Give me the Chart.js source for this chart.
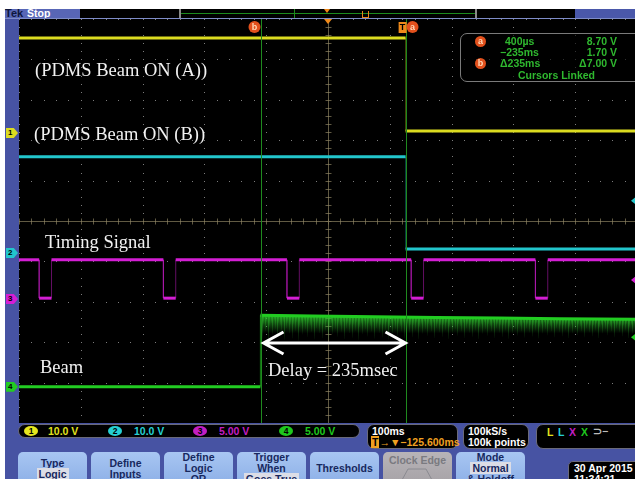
<!DOCTYPE html>
<html>
<head>
<meta charset="utf-8">
<title>Logic trigger delay</title>
<script src="https://cdn.jsdelivr.net/npm/chart.js@4.4.1/dist/chart.umd.min.js"></script>
<style>
  html, body { margin: 0; padding: 0; }
  body { width: 635px; height: 479px; overflow: hidden; position: relative; background: #fff;
         font-family: "Liberation Sans", Arial, sans-serif; }
  .abs { position: absolute; }
  .note { position: absolute; color: #f2f2f2; font-family: "Liberation Serif", "Times New Roman", serif;
          font-size: 18.5px; line-height: 1; white-space: nowrap; }
  .ui { position: absolute; font-weight: bold; font-size: 10.5px; line-height: 11px; white-space: nowrap; }
  .grn { color: #2fb82f; }
  .circ { position: absolute; width: 11px; height: 11px; border-radius: 50%; background: #e2501c;
          color: #ffd9b8; font: bold 9px "Liberation Sans"; line-height: 11px; text-align: center; }
  .tag { position: absolute; left: 6px; width: 12px; height: 10px; color: #000; font: bold 8px "Liberation Sans";
         line-height: 10px; padding-left: 2px; box-sizing: border-box;
         clip-path: polygon(0 0, 65% 0, 100% 50%, 65% 100%, 0 100%); }
  .box { position: absolute; background: #000; border: 1px solid #6a6a7a; border-radius: 7px; box-sizing: border-box; }
  .chip { position: absolute; top: 1px; width: 14px; height: 10px; border-radius: 50%; color: #000;
          font: bold 8.5px "Liberation Sans"; line-height: 10px; text-align: center; }
  .btn { position: absolute; top: 452px; width: 69px; height: 40px; border-radius: 5px 5px 0 0;
         background: linear-gradient(#a8c6f2, #86aae4); color: #17285e; text-align: center;
         font: bold 10.5px "Liberation Sans"; line-height: 11px; box-sizing: border-box; }
  .hl { background: #dcdde6; padding: 0 2px; }
</style>
</head>
<body>
<div id="frame" class="abs" style="left:5px;top:9px;width:640px;height:480px;background:#4753a3"></div>

<!-- top status bar -->
<div class="abs" style="left:5px;top:9px;width:75px;height:10px;background:#5866b6"></div>
<div class="ui" style="left:5px;top:8px;color:#0e163e;font-size:11px">Tek</div>
<div class="ui" style="left:27px;top:8px;color:#fff">Stop</div>
<div class="abs" style="left:80px;top:9px;width:495px;height:9px;background:#000"></div>
<div class="abs" style="left:179px;top:9px;width:298px;height:9px;border-left:2px solid #8a8a8a;border-right:2px solid #8a8a8a;box-sizing:border-box"></div>
<div class="abs" style="left:181px;top:13px;width:294px;height:1px;background:#1d8a1d"></div>
<div class="abs" style="left:294px;top:9px;width:1px;height:9px;background:#1d8a1d"></div>
<div class="abs" style="left:324px;top:9px;width:0;height:0;border-left:3px solid transparent;border-right:3px solid transparent;border-top:4px solid #f08a1a"></div>
<div class="abs" style="left:362px;top:11px;width:5px;height:6px;border:1px solid #e8861a;border-top:none"></div>
<div class="abs" style="left:575px;top:9px;width:60px;height:9px;background:#4a58aa"></div>
<div class="abs" style="left:5px;top:18px;width:630px;height:1px;background:#7e8cc8"></div>

<canvas id="scope" class="abs" style="left:19px;top:19px" width="618" height="404"></canvas>

<!-- annotations written on the screenshot -->
<div class="note" style="left:35px;top:60.5px">(PDMS Beam ON (A))</div>
<div class="note" style="left:34px;top:124.5px">(PDMS Beam ON (B))</div>
<div class="note" style="left:45px;top:232.5px">Timing Signal</div>
<div class="note" style="left:40px;top:357.5px">Beam</div>
<div class="note" style="left:268px;top:360.5px">Delay = 235msec</div>

<!-- cursor readout -->
<div class="abs" style="left:460px;top:33px;width:190px;height:49px;border:1.5px solid #7a7a7a;border-radius:7px;background:rgba(0,0,0,0.6);box-sizing:border-box"></div>
<div class="circ" style="left:475px;top:36px">a</div>
<div class="ui grn" style="left:505px;top:36px">400µs</div>
<div class="ui grn" style="left:585px;top:36px;width:32px;text-align:right">8.70 V</div>
<div class="ui grn" style="left:500px;top:47px">−235ms</div>
<div class="ui grn" style="left:585px;top:47px;width:32px;text-align:right">1.70 V</div>
<div class="circ" style="left:475px;top:58px">b</div>
<div class="ui grn" style="left:500px;top:58px">Δ235ms</div>
<div class="ui grn" style="left:570px;top:58px;width:47px;text-align:right">Δ7.00 V</div>
<div class="ui grn" style="left:518px;top:70px">Cursors Linked</div>

<!-- bottom readouts -->
<div class="box" style="left:18px;top:424px;width:342px;height:14px">
  <div class="chip" style="left:5px;background:#e6e61e">1</div>
  <div class="ui" style="left:29px;top:1px;color:#e2e21e">10.0 V</div>
  <div class="chip" style="left:89px;background:#26d0d4">2</div>
  <div class="ui" style="left:115px;top:1px;color:#26d0d4">10.0 V</div>
  <div class="chip" style="left:174px;background:#c21ec2">3</div>
  <div class="ui" style="left:200px;top:1px;color:#c21ec2">5.00 V</div>
  <div class="chip" style="left:260px;background:#1ec81e">4</div>
  <div class="ui" style="left:286px;top:1px;color:#1ec81e">5.00 V</div>
</div>
<div class="box" style="left:367px;top:424px;width:91px;height:25px">
  <div class="ui" style="left:4px;top:1px;color:#fff">100ms</div>
  <div class="ui" style="left:3px;top:12px;color:#f0a020"><span style="background:#f0a020;color:#000;padding:0 1px">T</span>→▼−125.600ms</div>
</div>
<div class="box" style="left:463px;top:424px;width:66px;height:25px">
  <div class="ui" style="left:4px;top:1px;color:#fff">100kS/s</div>
  <div class="ui" style="left:4px;top:12px;color:#fff">100k points</div>
</div>
<div class="box" style="left:536px;top:424px;width:110px;height:25px">
  <div class="ui" style="left:10px;top:2px;color:#e2e21e">L</div>
  <div class="ui" style="left:21px;top:2px;color:#26d0d4">L</div>
  <div class="ui" style="left:32px;top:2px;color:#c21ec2">X</div>
  <div class="ui" style="left:44px;top:2px;color:#1ec81e">X</div>
  <div class="ui" style="left:56px;top:1px;color:#bbb">⊃−</div>
</div>

<!-- soft menu -->
<div class="btn" style="left:18px;padding-top:6px">Type<br><span class="hl">Logic</span></div>
<div class="btn" style="left:91px;padding-top:6px">Define<br>Inputs</div>
<div class="btn" style="left:164px;padding-top:0">Define<br>Logic<br>OR</div>
<div class="btn" style="left:237px;padding-top:0">Trigger<br>When<br><span class="hl">Goes True</span></div>
<div class="btn" style="left:310px;padding-top:11px">Thresholds</div>
<div class="btn" style="left:383px;padding-top:3px;background:linear-gradient(#b8b4b8,#a29ea2);color:#7a7a80">Clock Edge
  <svg width="60" height="14" style="display:block;margin:1px auto 0"><polyline points="0,13 14,13 20,2 38,2 44,13 60,13" fill="none" stroke="#8a8a90" stroke-width="1"/></svg></div>
<div class="btn" style="left:456px;padding-top:0">Mode<br><span class="hl">Normal</span><br>&amp; Holdoff</div>
<div class="box" style="left:568px;top:461px;width:80px;height:30px;border-radius:5px">
  <div class="ui" style="left:5px;top:1px;color:#fff">30 Apr 2015</div>
  <div class="ui" style="left:5px;top:12px;color:#fff">11:34:21</div>
</div>

<div id="tags"></div>

<script>
// horizontal: 100 ms/div, trigger at 0 ms, record centre at -125.6 ms
const X_MIN = -625.6;
const MS_PER_DIV = 100;
const H_DIVS = 10;
const V_DIVS = 10;

// channel settings (V/div, ground position in divisions from centre)
const chScale = [10, 10, 5, 5];
const chOffset = [2.18, -0.79, -1.93, -4.1];
const chColor = ['#dcdc20', '#22c6cc', '#d41ed4', '#22cc22'];
const chEdgeAlpha = ['22', '22', '77', '99'];
const chTrigLevel = [null, 12.9, 2.35, 6.1];

// ch1 - PDMS beam ON (A): level between consecutive times
const ch1Times = [-625.6, 0, 374.4];
const ch1Volts = [23.5, 0.5];

// ch2 - PDMS beam ON (B)
const ch2Times = [-625.6, 0, 374.4];
const ch2Volts = [23.8, 1.0];

// ch3 - timing signal, ~20 ms low pulses every ~200 ms
const ch3Times = [-625.6, -593, -573, -392, -372, -192, -172, 9, 29, 210, 230, 374.4];
const ch3Volts = [4.85, 0.1, 4.85, 0.1, 4.85, 0.1, 4.85, 0.1, 4.85, 0.1, 4.85];

// ch4 - beam, plain points
const ch4Times = [-625.6, -235, -235, -150, -50, 50, 150, 250, 374.4];
const ch4Volts = [0, 0, 8.85, 8.75, 8.65, 8.55, 8.5, 8.4, 8.35];
// lower edge of the noise on the beam once it is on
const ch4FloorTimes = [-235, -150, -50, 50, 150, 250, 374.4];
const ch4FloorVolts = [5.6, 5.7, 5.8, 5.9, 5.9, 6.0, 6.0];

// cursors a and b (ms)
const cursorTimes = [0.4, -234.6];

// stripe lengths used to texture the noise band (fraction of band depth)
const noiseTexture = [0.9, 0.35, 0.6, 0.25, 1.0, 0.45, 0.3, 0.75, 0.2, 0.55, 0.85, 0.3, 0.4, 0.65, 0.25, 0.95, 0.5, 0.3, 0.7, 0.35];

function toDiv(ch, v) { return chOffset[ch] + v / chScale[ch]; }

function levelPoints(ch, times, volts) {
  const pts = [];
  for (let i = 0; i < volts.length; i++) {
    pts.push({x: times[i], y: toDiv(ch, volts[i])});
    pts.push({x: times[i + 1], y: toDiv(ch, volts[i])});
  }
  return pts;
}
function plainPoints(ch, times, volts) {
  return times.map((t, i) => ({x: t, y: toDiv(ch, volts[i])}));
}

function traceSet(ch, data) {
  return {
    data: data,
    borderColor: chColor[ch],
    borderWidth: 3,
    borderCapStyle: 'butt',
    pointRadius: 0,
    tension: 0,
    segment: {
      borderWidth: c => c.p0.parsed.x === c.p1.parsed.x ? 1 : 3,
      borderColor: c => c.p0.parsed.x === c.p1.parsed.x ? chColor[ch] + chEdgeAlpha[ch] : chColor[ch]
    }
  };
}

const graticule = {
  id: 'graticule',
  beforeDatasetsDraw(chart) {
    const ctx = chart.ctx, xs = chart.scales.x, ys = chart.scales.y;
    const area = chart.chartArea;
    ctx.save();
    ctx.fillStyle = '#7c7c7c';
    for (let k = 0; k <= H_DIVS; k++) {
      const px = Math.round(xs.getPixelForValue(X_MIN + k * MS_PER_DIV));
      for (let m = 0; m <= V_DIVS * 5; m++) {
        const py = Math.round(ys.getPixelForValue(-V_DIVS / 2 + m * 0.2));
        ctx.fillRect(px, py, 1, 1);
      }
    }
    for (let k = 0; k <= V_DIVS; k++) {
      const py = Math.round(ys.getPixelForValue(-V_DIVS / 2 + k));
      for (let m = 0; m <= H_DIVS * 5; m++) {
        const px = Math.round(xs.getPixelForValue(X_MIN + m * MS_PER_DIV / 5));
        ctx.fillRect(px, py, 1, 1);
      }
    }
    // centre cross with minor ticks
    const cx = Math.round(xs.getPixelForValue(X_MIN + H_DIVS / 2 * MS_PER_DIV)) + 0.5;
    const cy = Math.round(ys.getPixelForValue(0)) + 0.5;
    ctx.strokeStyle = 'rgba(130,120,90,0.75)';
    ctx.lineWidth = 1;
    ctx.beginPath();
    ctx.moveTo(area.left, cy); ctx.lineTo(area.right, cy);
    ctx.moveTo(cx, area.top); ctx.lineTo(cx, area.bottom);
    for (let m = 0; m <= H_DIVS * 5; m++) {
      const px = Math.round(xs.getPixelForValue(X_MIN + m * MS_PER_DIV / 5)) + 0.5;
      ctx.moveTo(px, cy - 3); ctx.lineTo(px, cy + 3);
    }
    for (let m = 0; m <= V_DIVS * 5; m++) {
      const py = Math.round(ys.getPixelForValue(-V_DIVS / 2 + m * 0.2)) + 0.5;
      ctx.moveTo(cx - 3, py); ctx.lineTo(cx + 3, py);
    }
    ctx.stroke();

    // noise band under the beam trace: soft fill plus spikes
    const top = [], bot = [];
    ch4Times.forEach((t, i) => { if (i >= 2) top.push([xs.getPixelForValue(t), ys.getPixelForValue(toDiv(3, ch4Volts[i]))]); });
    ch4FloorTimes.forEach((t, i) => bot.push([xs.getPixelForValue(t), ys.getPixelForValue(toDiv(3, ch4FloorVolts[i]))]));
    const lerp = (pts, x) => {
      for (let i = 1; i < pts.length; i++) {
        if (x <= pts[i][0]) {
          const f = (x - pts[i - 1][0]) / (pts[i][0] - pts[i - 1][0] || 1);
          return pts[i - 1][1] + f * (pts[i][1] - pts[i - 1][1]);
        }
      }
      return pts[pts.length - 1][1];
    };
    const y0 = ys.getPixelForValue(toDiv(3, 8.6)), y1 = ys.getPixelForValue(toDiv(3, 6.6));
    const g = ctx.createLinearGradient(0, y0, 0, y1);
    g.addColorStop(0, 'rgba(40,200,40,0.7)');
    g.addColorStop(1, 'rgba(40,160,40,0)');
    ctx.fillStyle = g;
    ctx.beginPath();
    top.forEach((p, i) => i ? ctx.lineTo(p[0], p[1]) : ctx.moveTo(p[0], p[1]));
    bot.slice().reverse().forEach(p => ctx.lineTo(p[0], p[1]));
    ctx.closePath();
    ctx.fill();
    ctx.lineWidth = 1;
    let k = 0;
    for (let x = top[0][0] + 1.5; x < area.right; x += 1.5, k++) {
      const yt = lerp(top, x), yb = lerp(bot, x);
      const len = (yb - yt) * noiseTexture[k % noiseTexture.length];
      const sg = ctx.createLinearGradient(0, yt, 0, yt + len);
      sg.addColorStop(0, 'rgba(50,200,50,0.55)');
      sg.addColorStop(1, 'rgba(50,180,50,0.05)');
      ctx.strokeStyle = sg;
      ctx.beginPath();
      ctx.moveTo(Math.round(x) + 0.5, yt);
      ctx.lineTo(Math.round(x) + 0.5, yt + len);
      ctx.stroke();
    }
    ctx.restore();
  },
  afterDatasetsDraw(chart) {
    const ctx = chart.ctx, xs = chart.scales.x, ys = chart.scales.y;
    const area = chart.chartArea;
    ctx.save();
    // cursors
    ctx.strokeStyle = '#1f8a1f';
    ctx.lineWidth = 1;
    const pa = Math.round(xs.getPixelForValue(cursorTimes[0])) + 0.5;
    const pb = Math.round(xs.getPixelForValue(cursorTimes[1])) + 0.5;
    ctx.beginPath();
    ctx.moveTo(pa, area.top); ctx.lineTo(pa, area.bottom);
    ctx.moveTo(pb, area.top); ctx.lineTo(pb, area.bottom);
    ctx.stroke();

    // delay arrow between the cursors
    const ay = ys.getPixelForValue(-3.02);
    const l = pb + 2, r = pa - 1;
    ctx.strokeStyle = '#ffffff';
    ctx.lineWidth = 3;
    ctx.lineJoin = 'miter';
    ctx.beginPath();
    ctx.moveTo(l, ay); ctx.lineTo(r, ay);
    ctx.moveTo(l + 20, ay - 11); ctx.lineTo(l, ay); ctx.lineTo(l + 20, ay + 11);
    ctx.moveTo(r - 20, ay - 11); ctx.lineTo(r, ay); ctx.lineTo(r - 20, ay + 11);
    ctx.stroke();

    // markers along the top edge
    const cx = xs.getPixelForValue(X_MIN + H_DIVS / 2 * MS_PER_DIV);
    ctx.fillStyle = '#f08a1a';
    ctx.beginPath();
    ctx.moveTo(cx - 4, 0); ctx.lineTo(cx + 4, 0); ctx.lineTo(cx, 5); ctx.closePath(); ctx.fill();
    const tx = xs.getPixelForValue(0);
    ctx.fillRect(tx - 7, 3, 8, 11);
    ctx.fillStyle = '#000';
    ctx.font = 'bold 9px "Liberation Sans"';
    ctx.textAlign = 'center'; ctx.textBaseline = 'middle';
    ctx.fillText('T', tx - 3, 9);
    [[pb - 7, 'b'], [pa + 6, 'a']].forEach(([x, s]) => {
      ctx.fillStyle = '#e2501c';
      ctx.beginPath(); ctx.arc(x, 8, 6, 0, Math.PI * 2); ctx.fill();
      ctx.fillStyle = '#ffd9b8';
      ctx.fillText(s, x, 8.5);
    });

    // trigger level markers on the right edge
    chTrigLevel.forEach((v, ch) => {
      if (v === null) return;
      const py = ys.getPixelForValue(toDiv(ch, v));
      const rx = 612;
      ctx.fillStyle = chColor[ch];
      ctx.beginPath(); ctx.moveTo(rx, py); ctx.lineTo(rx + 5, py - 4); ctx.lineTo(rx + 5, py + 4); ctx.closePath(); ctx.fill();
    });
    ctx.restore();
  }
};

const chart = new Chart(document.getElementById('scope'), {
  type: 'line',
  data: {
    datasets: [
      traceSet(0, levelPoints(0, ch1Times, ch1Volts)),
      traceSet(1, levelPoints(1, ch2Times, ch2Volts)),
      traceSet(2, levelPoints(2, ch3Times, ch3Volts)),
      traceSet(3, plainPoints(3, ch4Times, ch4Volts))
    ]
  },
  options: {
    responsive: false,
    animation: false,
    events: [],
    layout: { padding: 0 },
    plugins: { legend: { display: false }, tooltip: { enabled: false } },
    scales: {
      x: { type: 'linear', display: false, min: X_MIN, max: X_MIN + H_DIVS * MS_PER_DIV },
      y: { type: 'linear', display: false, min: -V_DIVS / 2, max: V_DIVS / 2 }
    }
  },
  plugins: [{ id: 'bg', beforeDraw(c) { c.ctx.fillStyle = '#000'; c.ctx.fillRect(0, 0, c.width, c.height); } }, graticule]
});

// channel ground tags on the left strip
const ys = chart.scales.y;
const tagBox = document.getElementById('tags');
chOffset.forEach((g, ch) => {
  const d = document.createElement('div');
  d.className = 'tag';
  d.style.background = chColor[ch];
  d.style.top = (19 + ys.getPixelForValue(g) - 5) + 'px';
  d.textContent = String(ch + 1);
  tagBox.appendChild(d);
});
</script>
</body>
</html>
